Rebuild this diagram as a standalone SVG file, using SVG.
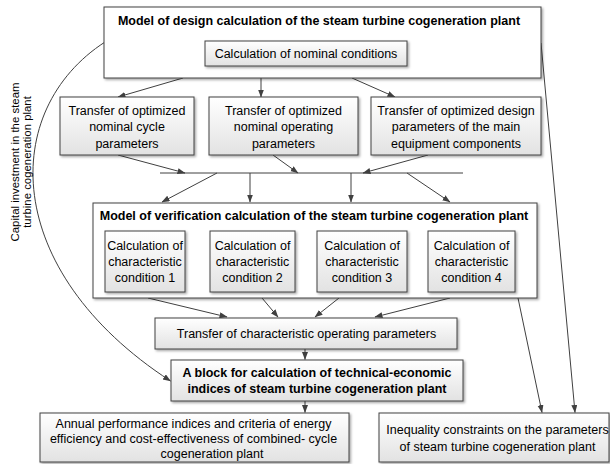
<svg xmlns="http://www.w3.org/2000/svg" width="610" height="464" viewBox="0 0 610 464">
<defs>
<linearGradient id="g" x1="0" y1="0" x2="0" y2="1">
<stop offset="0" stop-color="#ffffff"/>
<stop offset="1" stop-color="#e2e2e2"/>
</linearGradient>
<filter id="sh" x="-5%" y="-5%" width="115%" height="130%">
<feDropShadow dx="1.5" dy="1.5" stdDeviation="0.8" flood-color="#000" flood-opacity="0.35"/>
</filter>
<marker id="ah" markerUnits="userSpaceOnUse" markerWidth="8" markerHeight="7" refX="7.5" refY="3" orient="auto">
<path d="M0,0 L8,3 L0,6 z" fill="#404040"/>
</marker>
<style>
.outer{fill:#ffffff;stroke:#404040;stroke-width:1;filter:url(#sh)}
.box{fill:url(#g);stroke:#404040;stroke-width:1;filter:url(#sh)}
text{font-family:"Liberation Sans",Arial,sans-serif;font-size:12.5px;fill:#000;text-anchor:middle}
.b{font-weight:bold}
.v{font-size:11.4px}
.c{fill:none;stroke:#404040;stroke-width:1}
.a{marker-end:url(#ah)}
</style>
</defs>

<g id="connectors">
<path class="c a" d="M183,78 L118,97"/>
<path class="c a" d="M261,78 L261,97"/>
<path class="c a" d="M352,78 L395,97"/>
<path class="c a" d="M118,155 L185,173"/>
<path class="c a" d="M273,155 L298,173"/>
<path class="c a" d="M428,155 L363,173"/>
<path class="c" d="M160,173 L463,173"/>
<path class="c a" d="M217,173 L162,202"/>
<path class="c a" d="M250,173 L250,202"/>
<path class="c a" d="M351,173 L351,202"/>
<path class="c a" d="M407,173 L450,202"/>
<path class="c a" d="M148,298 L227,317"/>
<path class="c a" d="M262,298 L278,317"/>
<path class="c a" d="M339,298 L315,317"/>
<path class="c a" d="M450,298 L375,317"/>
<path class="c a" d="M305,349 L305,359.5"/>
<path class="c a" d="M305,401 L305,412.5"/>
<path class="c a" d="M518,298 L542,412.5"/>
<path class="c a" d="M541,43 L575,412.5"/>
<path class="c a" d="M105,42 C0,110 0,270 170.5,381"/>
</g>

<g id="label-capital">
<text class="v" transform="translate(19,162) rotate(-90)">Capital investment in the steam</text>
<text class="v" transform="translate(31,162) rotate(-90)">turbine cogeneration plant</text>
</g>

<g id="design-model">
<rect class="outer" x="104" y="7" width="437" height="71"/>
<text class="b" x="319" y="25">Model of design calculation of the steam turbine cogeneration plant</text>
</g>
<g id="nominal">
<rect class="box" x="205" y="41" width="202" height="25"/>
<text x="306" y="58">Calculation of nominal conditions</text>
</g>

<g id="transfer-cycle">
<rect class="box" x="60" y="97" width="134" height="58"/>
<text x="127" y="114.5">Transfer of optimized</text>
<text x="127" y="131">nominal cycle</text>
<text x="127" y="147.5">parameters</text>
</g>
<g id="transfer-operating">
<rect class="box" x="209" y="97" width="149" height="58"/>
<text x="283.5" y="114.5">Transfer of optimized</text>
<text x="283.5" y="131">nominal operating</text>
<text x="283.5" y="147.5">parameters</text>
</g>
<g id="transfer-design">
<rect class="box" x="371" y="97" width="170" height="58"/>
<text x="456" y="114.5">Transfer of optimized design</text>
<text x="456" y="131">parameters of the main</text>
<text x="456" y="147.5">equipment components</text>
</g>

<g id="verification-model">
<rect class="outer" x="93" y="203" width="444" height="95"/>
<text class="b" x="314" y="220">Model of verification calculation of the steam turbine cogeneration plant</text>
</g>
<g id="cond1">
<rect class="box" x="105" y="231" width="80" height="61"/>
<text x="145" y="249.5">Calculation of</text>
<text x="145" y="266">characteristic</text>
<text x="145" y="282">condition 1</text>
</g>
<g id="cond2">
<rect class="box" x="210" y="231" width="85" height="61"/>
<text x="252.5" y="249.5">Calculation of</text>
<text x="252.5" y="266">characteristic</text>
<text x="252.5" y="282">condition 2</text>
</g>
<g id="cond3">
<rect class="box" x="317" y="231" width="90" height="61"/>
<text x="362" y="249.5">Calculation of</text>
<text x="362" y="266">characteristic</text>
<text x="362" y="282">condition 3</text>
</g>
<g id="cond4">
<rect class="box" x="428" y="231" width="87" height="61"/>
<text x="471.5" y="249.5">Calculation of</text>
<text x="471.5" y="266">characteristic</text>
<text x="471.5" y="282">condition 4</text>
</g>

<g id="transfer-characteristic">
<rect class="box" x="155" y="318" width="302" height="31"/>
<text x="306.5" y="338">Transfer of characteristic operating parameters</text>
</g>

<g id="tech-econ-block">
<rect class="box" x="171" y="360" width="292" height="41"/>
<text class="b" x="317" y="376.5">A block for calculation of technical-economic</text>
<text class="b" x="317" y="393">indices of steam turbine cogeneration plant</text>
</g>

<g id="annual">
<rect class="box" x="40" y="413" width="309" height="49"/>
<text x="193.5" y="427.5">Annual performance indices and criteria of energy</text>
<text x="193.5" y="442.5">efficiency and cost-effectiveness of combined- cycle</text>
<text x="212" y="457.5">cogeneration plant</text>
</g>

<g id="inequality">
<rect class="box" x="379" y="413" width="230" height="49"/>
<text x="497.5" y="434">Inequality constraints on the parameters</text>
<text x="497.5" y="450.5">of steam turbine cogeneration plant</text>
</g>
</svg>
